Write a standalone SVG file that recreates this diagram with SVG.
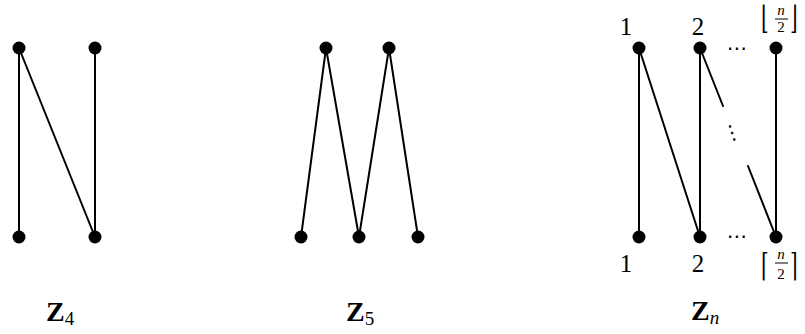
<svg xmlns="http://www.w3.org/2000/svg" width="805" height="334" viewBox="0 0 805 334">
<style>
.e{stroke:#000;stroke-width:2;fill:none;stroke-linecap:round}
.n{fill:#000}
.t{font-family:"Liberation Serif","DejaVu Serif",serif;fill:#000}
.lab{font-size:25px}
.zb{font-size:28px;font-weight:bold}
.sub{font-size:19px}
.fr{font-size:15px}
.br{font-family:"DejaVu Serif",serif;font-size:32px;fill:#000}
.dt{font-family:"DejaVu Sans",sans-serif;font-size:20px;fill:#000}
</style>
<rect width="805" height="334" fill="#fff"/>
<g id="connectors">
<line class="e" x1="19" y1="48" x2="19" y2="237"/>
<line class="e" x1="19" y1="48" x2="95" y2="237"/>
<line class="e" x1="95" y1="48" x2="95" y2="237"/>
<line class="e" x1="301" y1="237" x2="326" y2="48"/>
<line class="e" x1="326" y1="48" x2="359" y2="237"/>
<line class="e" x1="359" y1="237" x2="389" y2="48"/>
<line class="e" x1="389" y1="48" x2="418" y2="237"/>
<line class="e" x1="639" y1="48" x2="639" y2="237"/>
<line class="e" x1="639" y1="48" x2="700" y2="237"/>
<line class="e" x1="700" y1="48" x2="700" y2="237"/>
<line class="e" x1="700" y1="48" x2="723" y2="106"/>
<line class="e" x1="748" y1="166" x2="776" y2="237"/>
<line class="e" x1="776" y1="48" x2="776" y2="237"/>
</g>
<g id="z4">
<circle class="n" cx="19" cy="48" r="6.5"/><circle class="n" cx="95" cy="48" r="6.5"/>
<circle class="n" cx="19" cy="237" r="6.5"/><circle class="n" cx="95" cy="237" r="6.5"/>
<text class="t" x="46" y="321"><tspan class="zb">Z</tspan><tspan class="sub" dy="4">4</tspan></text>
</g>
<g id="z5">
<circle class="n" cx="326" cy="48" r="6.5"/><circle class="n" cx="389" cy="48" r="6.5"/>
<circle class="n" cx="301" cy="237" r="6.5"/><circle class="n" cx="359" cy="237" r="6.5"/><circle class="n" cx="418" cy="237" r="6.5"/>
<text class="t" x="346" y="321"><tspan class="zb">Z</tspan><tspan class="sub" dy="4">5</tspan></text>
</g>
<g id="zn">
<circle class="n" cx="639" cy="48" r="6.5"/><circle class="n" cx="700" cy="48" r="6.5"/><circle class="n" cx="776" cy="48" r="6.5"/>
<circle class="n" cx="639" cy="237" r="6.5"/><circle class="n" cx="700" cy="237" r="6.5"/><circle class="n" cx="776" cy="237" r="6.5"/>
<text class="t lab" x="626" y="35" text-anchor="middle">1</text>
<text class="t lab" x="698" y="35" text-anchor="middle">2</text>
<text class="t lab" x="626" y="272" text-anchor="middle">1</text>
<text class="t lab" x="698" y="272" text-anchor="middle">2</text>
<text class="dt" x="737" y="55" text-anchor="middle">⋯</text>
<text class="dt" x="737" y="243" text-anchor="middle">⋯</text>
<text class="dt" x="0" y="0" text-anchor="middle" transform="translate(734,139) rotate(-18)">⋮</text>
<text class="br" transform="translate(761,29) scale(0.6,1)">⌊</text>
<text class="br" transform="translate(790,29) scale(0.6,1)">⌋</text>
<text class="t fr" x="781" y="15" text-anchor="middle" font-style="italic">n</text>
<line x1="775" y1="19" x2="788" y2="19" stroke="#000" stroke-width="1"/>
<text class="t fr" x="781" y="32" text-anchor="middle">2</text>
<text class="br" transform="translate(761,276) scale(0.6,1)">⌈</text>
<text class="br" transform="translate(790,276) scale(0.6,1)">⌉</text>
<text class="t fr" x="781" y="259" text-anchor="middle" font-style="italic">n</text>
<line x1="775" y1="263" x2="788" y2="263" stroke="#000" stroke-width="1"/>
<text class="t fr" x="781" y="279" text-anchor="middle">2</text>
<text class="t" x="691" y="320"><tspan class="zb">Z</tspan><tspan class="sub" font-style="italic" dy="4">n</tspan></text>
</g>
</svg>
